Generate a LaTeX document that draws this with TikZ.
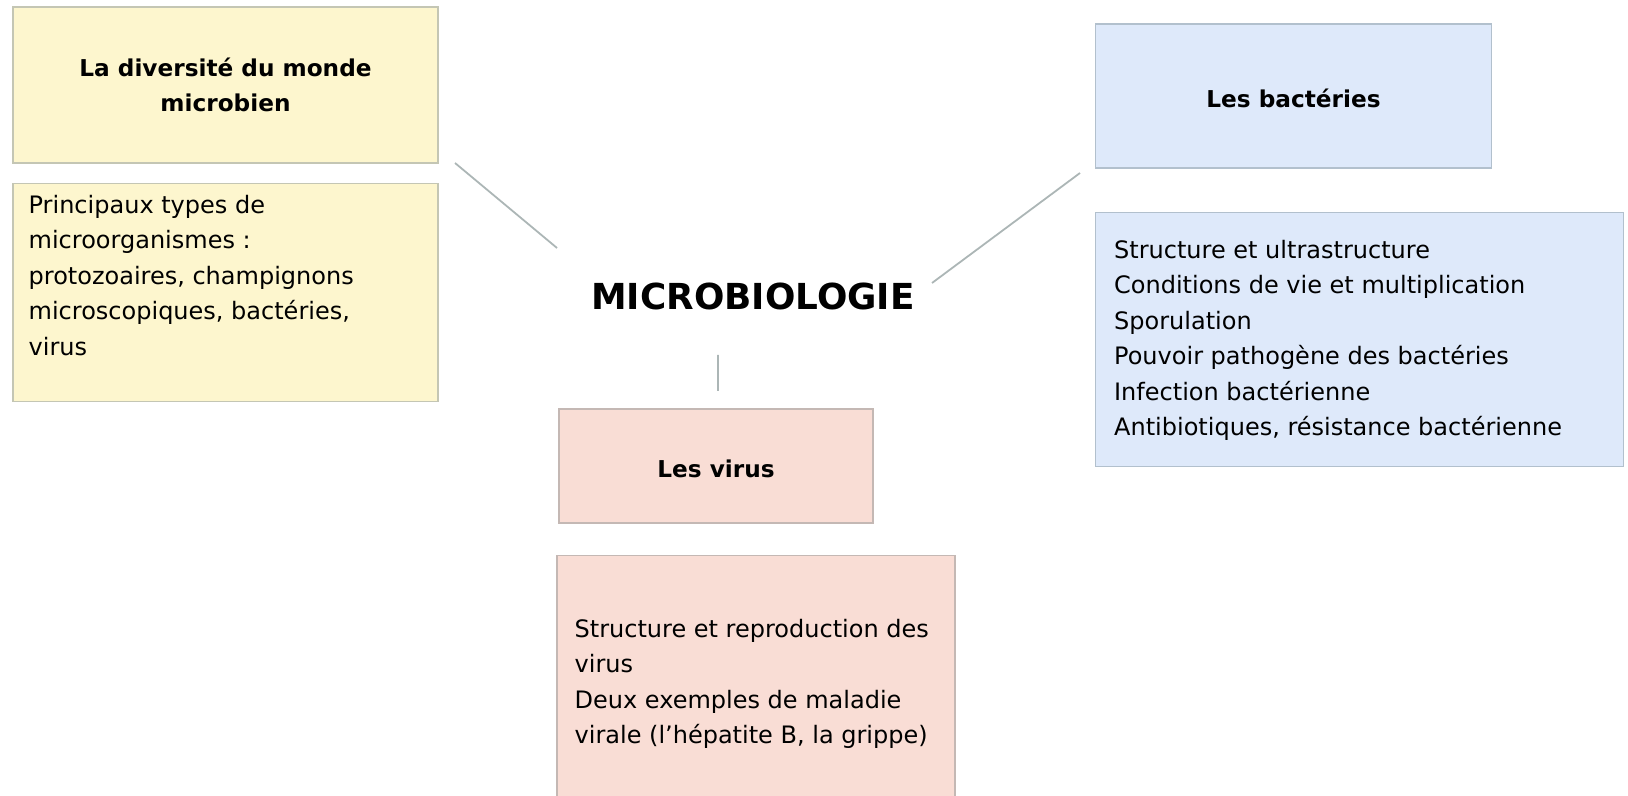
\documentclass[tikz,border=0pt]{standalone}
\usepackage{fontspec}
\setmainfont{DejaVu Sans}
\usetikzlibrary{positioning}

\definecolor{jaune}{RGB}{253,246,206}
\definecolor{jauneline}{RGB}{196,198,180}
\definecolor{bleu}{RGB}{222,233,250}
\definecolor{bleuline}{RGB}{178,192,205}
\definecolor{rose}{RGB}{249,221,213}
\definecolor{roseline}{RGB}{196,184,180}
\definecolor{trait}{RGB}{172,182,182}

\tikzset{
  box/.style={draw,line width=0.75pt,rectangle,inner sep=0pt},
  titre/.style={box,align=center,font=\fontsize{11.6}{17.5}\selectfont\bfseries},
  titreun/.style={titre,text height=11.8pt,text depth=0pt},
  texte/.style={anchor=north west,inner sep=0pt,align=left,font=\fontsize{12}{17.75}\selectfont},
  lien/.style={draw=trait,line width=0.9pt}
}

\begin{document}
\begin{tikzpicture}[x=0.5pt,y=-0.5pt]
  \useasboundingbox (0,0) rectangle (1628,796);
  \clip (0,0) rectangle (1628,796);

  % centre
  \node[font=\fontsize{17.9}{20}\selectfont\bfseries](micro) at (753,296){MICROBIOLOGIE};

  % diversite
  \node[titre,fill=jaune,draw=jauneline,minimum width=212.5pt,minimum height=78pt](div) at (225.5,85){La diversité du monde\\microbien};
  \node[box,fill=jaune,draw=jauneline,minimum width=212.5pt,minimum height=109pt,below=9.5pt of div](divbody){};
  \node[texte](divtext) at ([xshift=8pt,yshift=-6pt]divbody.north west)
    {Principaux types de\\microorganismes :\\protozoaires, champignons\\microscopiques, bactéries,\\virus};

  % bacteries
  \node[titreun,fill=bleu,draw=bleuline,minimum width=198pt,minimum height=72pt](bac) at (1293.5,96){Les bactéries};
  \node[box,fill=bleu,draw=bleuline,minimum width=264pt,minimum height=127pt,anchor=north west](bacbody) at ([yshift=-21.5pt]bac.south west){};
  \node[texte](bactext) at ([xshift=9.5pt,yshift=-14pt]bacbody.north west)
    {Structure et ultrastructure\\Conditions de vie et multiplication\\Sporulation\\Pouvoir pathogène des bactéries\\Infection bactérienne\\Antibiotiques, résistance bactérienne};

  % virus
  \node[titreun,fill=rose,draw=roseline,minimum width=157pt,minimum height=57pt](vir) at (716,466){Les virus};
  \node[box,fill=rose,draw=roseline,minimum width=199pt,minimum height=128pt,anchor=north west](virbody) at ([xshift=-1pt,yshift=-15.5pt]vir.south west){};
  \node[texte](virtext) at ([xshift=9pt,yshift=-32pt]virbody.north west)
    {Structure et reproduction des\\virus\\Deux exemples de maladie\\virale (l’hépatite B, la grippe)};

  % liens
  \coordinate (l1a) at (455,163);
  \coordinate (l1b) at (557,248);
  \coordinate (l2a) at (932,283);
  \coordinate (l2b) at (1080,173);
  \coordinate (l3a) at (718,355);
  \coordinate (l3b) at (718,391);
  \path[lien] (l1a) -- (l1b) (l2a) -- (l2b) (l3a) -- (l3b);
\end{tikzpicture}
\end{document}
